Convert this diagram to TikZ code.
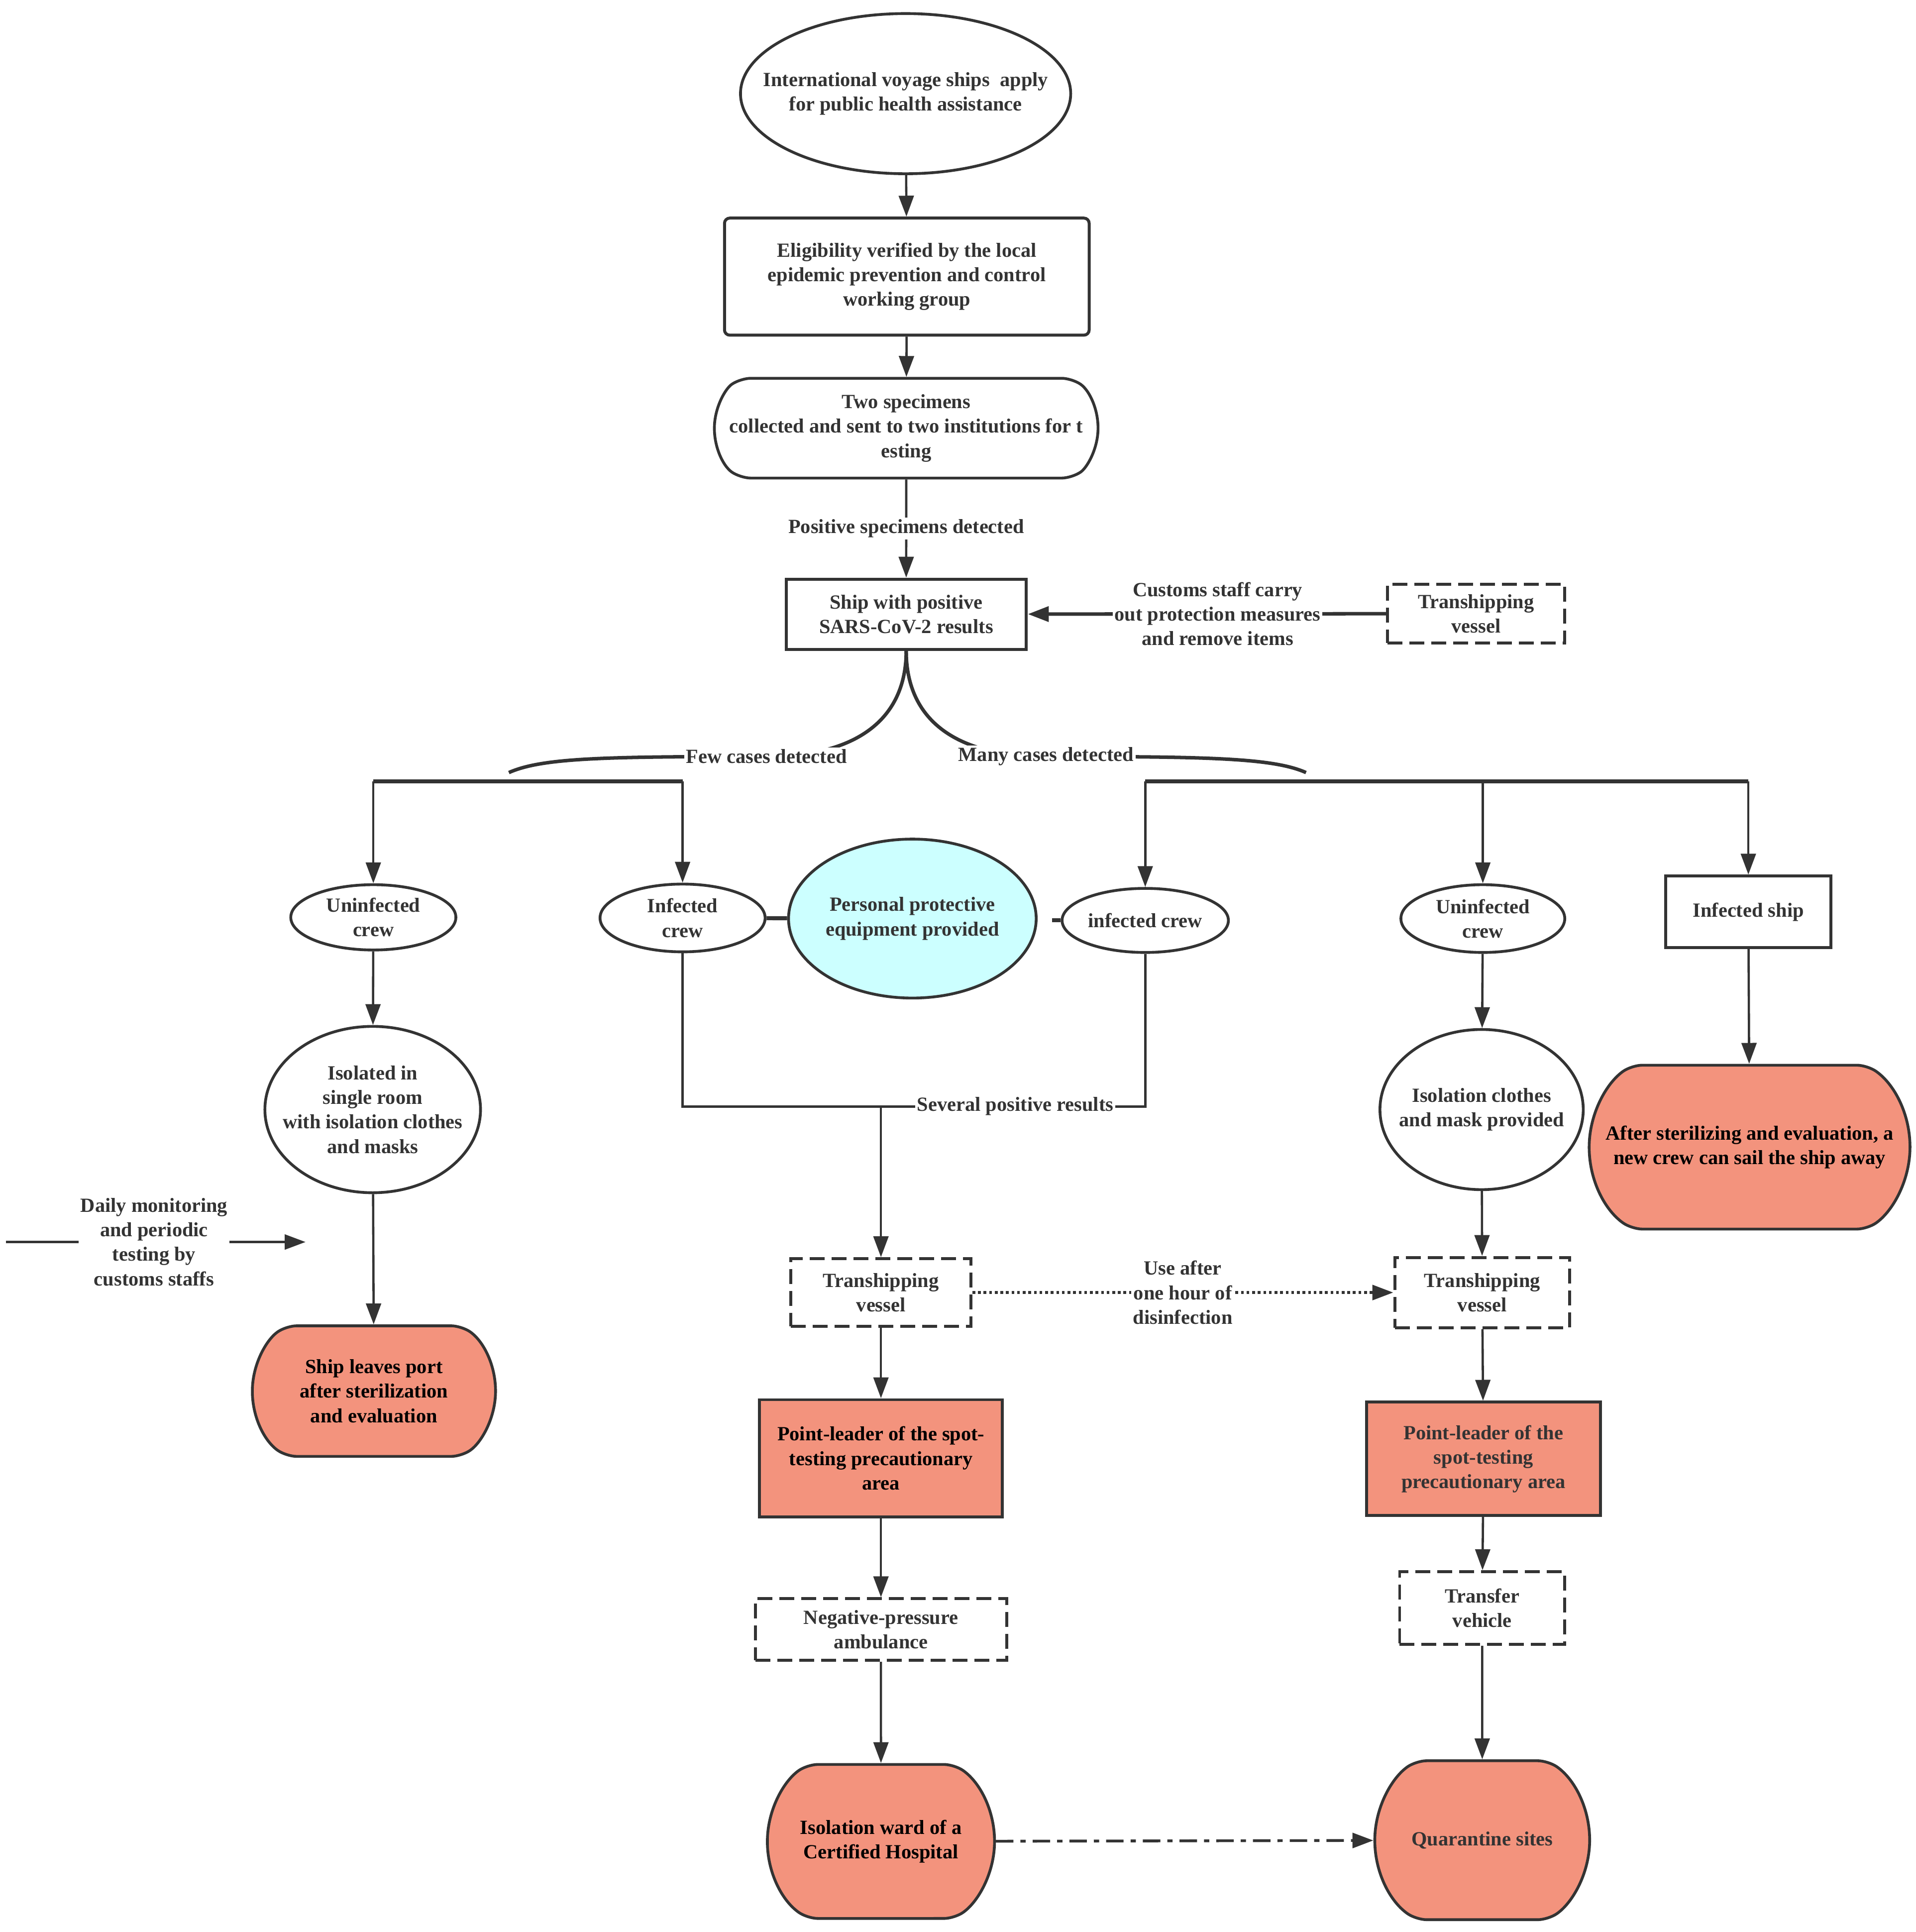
\documentclass[tikz,border=0pt]{standalone}
\usepackage{fontspec}
\setmainfont{Liberation Serif}
\usepackage{xcolor}
\usetikzlibrary{arrows.meta}
\usetikzlibrary{shapes.geometric}
\usetikzlibrary{shapes.misc}
\definecolor{ink}{HTML}{333333}
\definecolor{salmon}{HTML}{F3937D}
\definecolor{ppecyan}{HTML}{CCFFFF}
\def\dpx{0.024765cm}
\tikzset{
  every node/.style={font=\fontsize{11.5}{14}\selectfont\bfseries, text=ink, align=center},
  sz/.style 2 args={minimum width=#1*\dpx, minimum height=#2*\dpx},
  ln/.style={draw=ink, line width=1.3pt},
  arr/.style={ln, -{Triangle[length=0.42cm, width=0.3cm]}},
  bar/.style={ln, line width=2.3pt},
  oval/.style={ellipse, draw=ink, line width=1.6pt, fill=white, inner sep=-16pt},
  box/.style={rectangle, draw=ink, line width=1.7pt, fill=white, inner sep=2pt},
  dbox/.style={box, line width=1.7pt, dash pattern=on 0.3cm off 0.14cm},
  barrel/.style={rounded rectangle, rounded rectangle arc length=110, rounded corners=6pt,
    draw=ink, line width=1.6pt, fill=salmon, text=black, inner xsep=-0.5cm},
  elabel/.style={fill=white, inner sep=1pt},
  dotline/.style={line width=1.6pt, dash pattern=on 1.6pt off 1.6pt},
  dashdotline/.style={line width=1.6pt, dash pattern=on 10pt off 4pt on 3pt off 4pt}
}

\begin{document}
\begin{tikzpicture}[x=\dpx, y=-\dpx]
  \useasboundingbox (0,0) rectangle (1555,1568);
  \node[oval, sz={268}{130}] (apply) at (735,76) {International voyage ships\ \ apply\\for public health assistance};
  \node[box, rounded corners=3pt, sz={296}{95}] (elig) at (736,224.5) {Eligibility verified by the local\\epidemic prevention and control\\working group};
  \node[barrel, fill=white, text=ink, sz={271}{81}] (spec) at (735.5,347.5) {Two specimens\\collected and sent to two institutions for t\\esting};
  \node[box, sz={195}{57}] (ship) at (735.5,498.5) {Ship with positive\\SARS-CoV-2 results};
  \node[dbox, sz={144}{48}] (tv0) at (1198,498) {Transhipping\\vessel};
  \node[oval, sz={134}{53}] (ulc) at (303,744.5) {Uninfected\\crew};
  \node[oval, sz={134}{55}] (lic) at (554,745) {Infected\\crew};
  \node[oval, fill=ppecyan, sz={201}{129}] (ppe) at (740.5,745.5) {Personal protective\\equipment provided};
  \node[oval, sz={135}{52}] (rinf) at (929.5,747) {infected crew};
  \node[oval, sz={133}{55}] (runc) at (1203.5,745.5) {Uninfected\\crew};
  \node[box, sz={134}{58}] (iship) at (1419,740) {Infected ship};
  \node[oval, sz={175}{135}] (iso) at (302.5,900.5) {Isolated in\\single room\\with isolation clothes\\and masks};
  \node[oval, sz={165}{130}] (cloth) at (1202.5,900.5) {Isolation clothes\\and mask provided};
  \node[barrel, sz={220}{133}] (after) at (1420,931) {After sterilizing and evaluation, a\\new crew can sail the ship away};
  \node[dbox, sz={146}{55}] (tv1) at (715,1049) {Transhipping\\vessel};
  \node[dbox, sz={142}{57}] (tv2) at (1203,1049) {Transhipping\\vessel};
  \node[barrel, sz={157}{106}] (leave) at (303.5,1129) {Ship leaves port\\after sterilization\\and evaluation};
  \node[box, fill=salmon, text=black, sz={197}{95}] (pl1) at (715,1183.5) {Point-leader of the spot-\\testing precautionary\\area};
  \node[box, fill=salmon, sz={190}{92}] (pl2) at (1204,1184) {Point-leader of the\\spot-testing\\precautionary area};
  \node[dbox, sz={204}{50}] (amb) at (715,1322.5) {Negative-pressure\\ambulance};
  \node[dbox, sz={134}{59}] (tf) at (1203,1305) {Transfer\\vehicle};
  \node[barrel, sz={144}{125}] (ward) at (715,1494.5) {Isolation ward of a\\Certified Hospital};
  \node[barrel, text=ink, sz={134}{129}] (qs) at (1203,1493.5) {Quarantine sites};

  \draw[arr] (apply) -- (elig);
  \draw[arr] (elig) -- (spec);
  \draw[arr] (spec) -- node[elabel] (pos) {Positive specimens detected} (ship);
  \draw[arr, line width=2pt] (tv0) -- node[elabel, pos=0.47] (cus) {Customs staff carry\\out protection measures\\and remove items} (ship);

  \coordinate (fewend) at (413,627);
  \coordinate (manyend) at (1060,627);
  \draw[ln, line width=2pt] (ship.south) .. controls (735.5,580) and (700,614) .. (622,614)
    node[elabel] (few) {Few cases detected}
    .. controls (490,614) and (440,615) .. (fewend);
  \draw[ln, line width=2pt] (ship.south) .. controls (735.5,580) and (770,614) .. (849,614)
    node[elabel] (many) {Many cases detected}
    .. controls (980,614) and (1033,615) .. (manyend);

  \coordinate (lbar) at (0,634);
  \draw[bar] (ulc |- lbar) -- (lic |- lbar);
  \draw[arr] (ulc |- lbar) -- (ulc);
  \draw[arr] (lic |- lbar) -- (lic);
  \draw[bar] (rinf |- lbar) -- (iship |- lbar);
  \draw[arr] (rinf |- lbar) -- (rinf);
  \draw[arr] (runc |- lbar) -- (runc);
  \draw[arr] (iship |- lbar) -- (iship);

  \draw[bar] (lic) -- (ppe);
  \draw[bar] (rinf.west) -- ++(-7,0);

  \node[elabel] (sev) at (824,898) {Several positive results};
  \coordinate (sp) at (715,898);
  \draw[ln] (lic.south) |- (sev.west);
  \draw[ln] (sev.east) -| (rinf.south);
  \draw[arr] (sp) -- (tv1);

  \coordinate (dm0) at (5,1008);
  \coordinate (dm1) at (248,1008);
  \draw[arr] (dm0) -- node[elabel, pos=0.494] (daily) {Daily monitoring\\and periodic\\testing by\\customs staffs} (dm1);

  \draw[arr] (ulc) -- (iso);
  \draw[arr] (iso) -- (leave);
  \draw[arr] (runc) -- (cloth);
  \draw[arr] (cloth) -- (tv2);
  \draw[arr] (iship) -- (after);
  \draw[arr] (tv1) -- (pl1);
  \draw[arr] (pl1) -- (amb);
  \draw[arr] (amb) -- (ward);
  \draw[arr] (tv2) -- (pl2);
  \draw[arr] (pl2) -- (tf);
  \draw[arr] (tf) -- (qs);
  \draw[arr, dotline] (tv1) -- node[elabel] (use) {Use after\\one hour of\\disinfection} (tv2);
  \draw[arr, dashdotline] (ward) -- (qs);
\end{tikzpicture}
\end{document}
